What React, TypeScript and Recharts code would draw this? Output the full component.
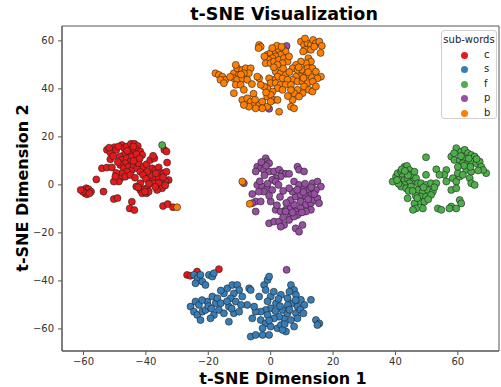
import {
  ScatterChart,
  Scatter,
  XAxis,
  YAxis,
  ReferenceArea,
} from "recharts";

// sub-word clusters, [x, y] in t-SNE units
const cPoints = [
  [-52.5, 14.6], [-51.4, 13.5], [-50.1, 15.7], [-49.5, 14.6], [-47.7, 16.6], [-46.9, 15.3],
  [-46.1, 16.0], [-44.8, 17.1], [-43.7, 17.1], [-42.6, 16.2], [-43.1, 14.6], [-41.8, 13.9],
  [-41.2, 12.5], [-44.5, 14.6], [-45.5, 13.2], [-47.1, 12.5], [-48.4, 11.8], [-47.7, 10.4],
  [-46.1, 11.1], [-44.5, 11.8], [-45.0, 9.7], [-46.6, 9.0], [-48.2, 8.3], [-47.1, 6.9],
  [-45.5, 7.6], [-44.5, 6.2], [-46.1, 5.5], [-47.7, 4.8], [-48.2, 2.7], [-46.6, 3.4],
  [-48.7, 1.4], [-50.3, 1.4], [-45.0, 4.1], [-43.9, 8.3], [-42.8, 6.9], [-41.8, 5.5],
  [-42.3, 9.0], [-40.7, 7.6], [-39.8, 8.6], [-38.6, 10.4], [-37.3, 11.1], [-37.7, 12.1],
  [-38.0, 6.9], [-37.0, 6.2], [-35.9, 7.3], [-35.3, 5.1], [-34.3, 4.8], [-33.4, 5.5],
  [-32.7, 2.0], [-33.7, 1.4], [-35.3, 2.0], [-36.4, 3.4], [-38.0, 2.7], [-37.5, 0.7],
  [-35.9, 0.7], [-34.8, -1.4], [-36.4, -2.1], [-38.6, 4.1], [-39.6, 5.5], [-40.9, 4.1],
  [-41.8, 0.7], [-43.1, -0.7], [-41.8, -2.1], [-40.5, -1.8], [-39.6, -1.4], [-41.2, -3.5],
  [-39.8, -3.5], [-39.1, -2.8], [-33.2, 9.3], [-34.1, 14.6], [-33.4, 13.9], [-44.5, -7.0],
  [-45.2, -9.8], [-43.7, -10.5], [-34.5, -8.8], [-33.0, -8.0], [-31.3, -9.3],
  [-60.0, -2.1], [-59.1, -1.4], [-58.4, -1.8], [-57.6, -2.8], [-59.5, -3.5], [-58.9, -3.9],
  [-60.2, -2.8], [-58.1, -3.5], [-60.9, -2.1], [-55.9, 2.3], [-53.6, -2.8], [-50.3, -5.9],
  [-49.1, -5.5], [-54.1, 6.9], [-52.5, 7.2], [-50.9, 7.3], [-51.4, 10.7],
  [-49.0, 9.5], [-43.0, 12.8], [-42.0, 11.0], [-44.0, 10.0], [-46.0, 14.2], [-48.8, 16.0],
  [-50.5, 12.0], [-49.5, 5.0], [-43.5, 3.0], [-40.0, 2.5], [-39.0, 0.5], [-36.8, 4.8],
  [-34.5, 3.2], [-37.0, -0.8], [-33.8, -0.2], [-40.3, -2.8], [-42.5, -1.0], [-49.8, 3.5],
  [-51.8, 15.5], [-44.0, 16.0],
  [-26.8, -37.5], [-25.7, -37.9], [-23.6, -36.1], [-16.6, -35.1],
];

const sPoints = [
  [-24.6, -37.5], [-23.5, -38.9], [-22.5, -37.5], [-21.9, -40.3], [-20.9, -41.7], [-19.8, -37.5],
  [-18.7, -38.2], [-18.2, -36.8], [-24.1, -41.0], [-25.7, -50.7], [-24.1, -48.6], [-23.0, -50.0],
  [-24.6, -52.8], [-23.5, -54.2], [-21.9, -52.8], [-22.5, -56.3], [-20.9, -52.1], [-20.3, -48.6],
  [-18.7, -46.5], [-17.6, -49.3], [-17.1, -47.2], [-16.0, -49.3], [-16.6, -52.1], [-18.2, -54.2],
  [-19.3, -55.6], [-15.0, -53.5], [-13.4, -57.0], [-15.0, -45.2], [-13.9, -43.1], [-12.3, -41.7],
  [-10.7, -41.7], [-10.1, -43.8], [-11.8, -45.2], [-12.8, -47.2], [-11.2, -48.6], [-13.4, -50.7],
  [-11.8, -53.5], [-10.1, -52.8], [-9.1, -46.5], [-6.9, -43.1], [-6.4, -43.8], [-3.7, -46.5],
  [-2.1, -41.7], [-1.0, -39.6], [-0.5, -38.2], [-1.6, -43.8], [0.0, -46.5], [1.7, -49.3],
  [0.0, -51.4], [-1.6, -52.1], [-3.2, -52.8], [-4.8, -52.8], [-5.9, -55.6], [-5.3, -50.7],
  [-7.5, -50.0], [-3.2, -56.3], [-1.6, -57.7], [0.0, -59.0], [2.2, -59.7], [3.3, -58.4],
  [4.3, -55.6], [2.7, -54.9], [1.1, -55.6], [-1.0, -54.2], [3.8, -52.1], [3.3, -45.8],
  [5.4, -47.2], [6.5, -41.7], [7.5, -43.8], [8.1, -45.8], [7.0, -49.3], [8.6, -50.7],
  [9.7, -47.9], [10.8, -50.0], [8.1, -53.5], [8.6, -55.6], [6.5, -56.3], [5.4, -53.5],
  [12.9, -47.9], [7.5, -59.0], [4.9, -61.1], [3.8, -60.4], [-6.4, -63.2], [-4.8, -62.5],
  [-2.6, -62.5], [-0.5, -62.5], [-2.6, -59.7], [14.5, -56.3], [15.6, -57.7], [15.0, -58.4],
  [-20.0, -50.5], [-22.0, -48.0], [-19.0, -51.5], [-14.0, -48.5], [-12.5, -51.5], [-9.5, -50.0],
  [1.5, -52.5], [3.0, -50.5], [5.5, -50.0], [6.0, -52.0], [2.5, -47.5], [1.0, -44.5],
  [-1.0, -48.5], [6.0, -44.5], [8.0, -48.0], [9.5, -52.0], [-0.5, -56.5], [4.5, -58.0],
  [10.5, -53.5], [-16.0, -44.0],
];

const fPoints = [
  [39.1, 1.4], [40.2, 3.5], [40.7, 4.9], [41.8, 5.5], [42.9, 7.6], [43.7, 7.9],
  [44.5, 6.2], [43.4, 4.9], [42.3, 3.5], [41.3, 2.1], [42.9, 2.1], [43.9, 2.8],
  [45.0, 4.2], [46.1, 5.5], [45.6, 1.4], [44.5, 0.7], [42.9, 0.0], [41.8, -0.7],
  [43.4, -1.4], [45.0, -0.7], [46.6, 2.8], [47.2, 0.7], [49.8, 11.5], [49.8, 4.2],
  [53.1, 6.5], [56.3, 6.2], [55.7, 4.2], [54.1, 4.2], [48.2, 0.7], [49.8, 0.0],
  [51.4, 0.7], [53.1, 0.7], [47.2, -2.1], [48.8, -2.8], [50.4, -2.1], [52.0, -2.8],
  [48.2, -4.9], [49.8, -4.9], [51.4, -4.2], [47.7, -7.0], [49.3, -7.0], [46.1, -7.7],
  [46.6, -9.8], [48.8, -9.8], [43.9, -5.6], [45.6, -10.4], [53.6, -9.8], [57.9, -2.1],
  [56.3, 1.4], [58.4, 2.8], [59.5, 1.4], [60.6, 3.5], [60.0, 4.9],
  [59.5, 15.3], [61.1, 13.9], [62.2, 14.6], [63.2, 13.2], [64.3, 12.5], [65.4, 11.8],
  [57.9, 11.8], [58.9, 10.4], [60.6, 10.4], [62.2, 11.1], [61.6, 9.0], [63.2, 9.0],
  [64.3, 9.7], [65.9, 9.0], [67.0, 9.7], [67.5, 7.6], [69.1, 4.9], [68.1, 6.2],
  [62.7, 6.2], [64.3, 5.5], [63.8, 2.8], [64.3, 0.7], [65.4, 0.0], [61.6, 4.2],
  [59.5, -1.4], [57.9, -9.0], [60.6, -6.3], [61.1, -7.7], [59.5, -9.8], [57.3, -9.8],
  [54.7, -10.4],
  [42.0, 6.5], [44.0, 4.0], [41.0, 0.5], [44.2, -2.5], [46.5, -4.5], [49.0, -1.0],
  [50.5, -6.0], [47.0, -5.5], [52.5, -1.0], [61.0, 12.0], [63.5, 11.0], [64.0, 7.5],
  [62.0, 8.0], [66.0, 10.8], [60.0, 7.5], [58.8, 13.2], [45.5, -2.5], [40.5, 2.0],
  [43.0, 5.8], [66.5, 6.0],
  [-34.8, 16.6],
];

const pPoints = [
  [-1.6, 11.1], [-1.1, 9.7], [-0.5, 9.0], [-4.3, 7.6], [-3.2, 7.0], [-4.8, 5.6],
  [-2.2, 6.3], [-0.5, 5.6], [1.1, 5.6], [2.7, 6.3], [3.7, 4.9], [4.8, 4.6],
  [5.9, 4.6], [3.2, 3.5], [1.6, 2.8], [8.6, 7.6], [9.1, 6.3], [10.7, 5.6],
  [-8.6, 0.7], [-5.9, -3.8], [-4.8, -6.9], [-3.2, -6.9], [-5.9, -7.6], [-4.8, -11.1],
  [-4.3, 0.0], [-2.7, -0.7], [-1.1, -1.4], [0.5, -2.1], [-2.2, -2.8], [-3.8, -2.8],
  [0.5, 2.1], [1.6, 1.4], [0.0, -6.9], [1.6, -10.4], [3.2, -11.1], [4.8, -10.4],
  [6.4, -9.7], [7.5, -8.3], [6.4, -6.3], [8.0, -4.9], [9.6, -4.2], [7.0, -2.8],
  [5.9, -1.4], [7.5, 1.4], [9.1, 0.0], [10.7, -1.4], [12.3, -2.1], [13.4, 0.7],
  [15.0, 1.4], [16.1, -0.7], [14.5, -2.1], [12.9, -4.2], [11.3, -4.9], [9.6, -6.9],
  [11.3, -8.3], [12.9, -7.6], [13.9, -6.3], [15.0, -5.6], [15.5, -7.6], [12.9, -10.4],
  [11.3, -11.1], [9.6, -9.7], [8.0, -11.1], [8.6, -12.5], [6.4, -13.2], [-0.5, -16.0],
  [1.1, -15.3], [2.7, -15.3], [4.3, -16.7], [3.2, -17.4], [5.9, -14.6], [7.5, -13.2],
  [8.0, -18.1], [9.1, -19.5], [10.2, -16.7], [4.8, -11.1],
  [-2.0, 4.0], [-3.5, 1.5], [-1.0, 0.5], [2.5, 0.0], [4.0, -2.5], [3.0, -5.0],
  [5.0, -7.5], [2.0, -8.5], [10.5, -3.0], [12.0, -6.0], [14.0, -3.8], [10.0, -11.5],
  [7.0, -11.5], [4.0, -13.5], [-1.5, 8.0], [-3.0, 9.5], [-0.5, -4.5], [13.0, -1.0],
  [8.5, -2.0], [11.0, 0.5],
  [5.1, 57.9], [-0.5, 31.7], [5.1, -35.4],
];

const bPoints = [
  [-3.7, 58.3], [-3.2, 57.6], [-3.9, 57.0], [-1.1, 54.2], [0.0, 54.9], [1.6, 55.6],
  [2.7, 56.3], [4.0, 56.5], [4.8, 55.6], [3.2, 54.2], [1.6, 53.5], [0.6, 52.8],
  [-0.7, 52.1], [-1.6, 50.7], [0.0, 50.7], [1.1, 51.4], [2.7, 52.1], [4.3, 52.8],
  [5.4, 51.4], [3.8, 50.7], [2.2, 50.0], [5.9, 53.5],
  [9.7, 59.7], [10.7, 58.3], [11.8, 59.0], [12.9, 58.3], [13.6, 60.4], [14.5, 59.0],
  [15.6, 59.7], [16.4, 57.9], [11.3, 56.3], [12.9, 56.3], [14.0, 57.6], [10.4, 55.6],
  [12.1, 52.8], [12.9, 51.4], [11.3, 50.7], [9.7, 51.4], [8.1, 50.0], [7.0, 48.6],
  [8.6, 47.9], [10.2, 47.9], [11.8, 48.6], [13.4, 48.6], [14.5, 47.2], [16.1, 45.1],
  [15.0, 44.4], [12.9, 45.1], [11.3, 45.8], [9.7, 45.1], [8.1, 45.1], [7.0, 43.8],
  [8.6, 43.1], [10.2, 43.1], [11.8, 42.4], [10.7, 41.0], [12.3, 39.6], [13.4, 38.9],
  [10.2, 38.2], [8.6, 39.6], [7.5, 38.2], [9.1, 36.8], [7.0, 35.4],
  [1.6, 47.2], [3.2, 46.5], [4.8, 45.8], [2.2, 45.1], [3.8, 44.4], [5.4, 43.8],
  [0.6, 43.8], [-0.5, 44.4], [0.0, 42.4], [1.6, 42.4], [3.2, 41.7], [4.8, 41.7],
  [6.5, 41.7], [2.2, 40.3], [3.8, 39.6], [0.6, 38.9], [-1.1, 40.3], [-2.1, 41.0],
  [-3.2, 41.7], [-3.7, 44.4], [-4.3, 45.1],
  [-17.7, 46.5], [-16.6, 45.8], [-15.5, 45.1], [-14.5, 43.8], [-16.1, 43.8], [-15.0, 42.4],
  [-11.8, 46.5], [-10.7, 48.6], [-9.1, 47.9], [-8.0, 48.6], [-6.4, 48.6], [-7.0, 46.5],
  [-8.6, 46.5], [-10.2, 45.8], [-11.8, 44.4], [-10.7, 43.8], [-9.1, 44.4], [-7.5, 43.8],
  [-11.2, 41.7], [-9.6, 41.7], [-8.6, 39.6], [-11.8, 38.2], [-11.2, 50.0],
  [-9.1, 35.4], [-7.5, 36.1], [-6.4, 34.7], [-5.3, 33.3], [-3.7, 33.3], [-2.7, 34.7],
  [-1.1, 36.8], [0.0, 37.5], [1.1, 35.4], [2.2, 35.4], [-1.1, 32.6], [-2.7, 31.9],
  [-4.8, 31.9], [-7.0, 32.6], [-8.6, 33.3], [0.0, 34.7], [6.5, 32.6], [7.5, 31.9],
  [2.7, 30.5],
  [2.0, 58.0], [0.5, 57.0], [3.5, 57.5], [-2.0, 53.5], [1.0, 49.0], [4.0, 48.5],
  [6.0, 47.0], [9.0, 49.0], [12.0, 47.0], [13.5, 43.0], [10.5, 44.5], [6.5, 39.5],
  [5.5, 37.0], [-1.5, 38.5], [-5.5, 38.0], [-6.0, 42.0], [-13.0, 45.0], [-9.5, 46.0],
  [-5.0, 35.5], [14.5, 41.0], [16.0, 55.0], [11.0, 61.0],
  [-9.1, 1.4], [-6.7, -7.9], [-30.0, -9.3],
];

const labels = ["c", "s", "f", "p", "b"];
const colors = ["#e41a1c", "#377eb8", "#4daf4a", "#984ea3", "#ff7f00"];
const seriesPoints = [cPoints, sPoints, fPoints, pPoints, bPoints];
const ticks = [-60, -40, -20, 0, 20, 40, 60];

const xDomain = [-66.9, 73.2];
const yDomain = [-69.2, 66.2];

const font = "'DejaVu Sans', sans-serif";
const minus = (v: number) => String(v).replace("-", "\u2212");

export default function App() {
  const tickStyle = { fontSize: 10, fill: "#333", fontFamily: font };

  return (
    <div style={{ position: "absolute", left: 0, top: 0, width: 501, height: 387, background: "#fff", fontFamily: font }}>
      <div style={{ position: "absolute", left: 284, top: 14, transform: "translate(-50%, -50%)", fontSize: 17.5, fontWeight: "bold", whiteSpace: "nowrap" }}>
        t-SNE Visualization
      </div>
      <ScatterChart width={501} height={387} margin={{ top: 26, right: 2, bottom: 0, left: 0 }}>
        <XAxis
          type="number"
          dataKey="x"
          domain={xDomain}
          ticks={ticks}
          allowDataOverflow
          height={36}
          tickSize={4}
          tickMargin={3}
          tick={tickStyle}
          tickFormatter={minus}
          axisLine={{ stroke: "#555" }}
          tickLine={{ stroke: "#555" }}
        />
        <YAxis
          type="number"
          dataKey="y"
          domain={yDomain}
          ticks={ticks}
          allowDataOverflow
          width={62}
          tickSize={4}
          tickMargin={4}
          tick={tickStyle}
          tickFormatter={minus}
          axisLine={{ stroke: "#555" }}
          tickLine={{ stroke: "#555" }}
        />
        <ReferenceArea
          x1={xDomain[0]}
          x2={xDomain[1]}
          y1={yDomain[0]}
          y2={yDomain[1]}
          fill="none"
          stroke="#555"
          ifOverflow="visible"
        />
        {seriesPoints.map((pts, i) => (
          <Scatter
            key={labels[i]}
            name={labels[i]}
            data={pts.map(([x, y]) => ({ x, y }))}
            isAnimationActive={false}
            shape={(p: any) => (
              <circle cx={p.cx} cy={p.cy} r={3.5} fill={colors[i]} stroke="#222" strokeWidth={0.6} />
            )}
          />
        ))}
      </ScatterChart>
      <div style={{ position: "absolute", left: 283, top: 378, transform: "translate(-50%, -50%)", fontSize: 16, fontWeight: "bold", whiteSpace: "nowrap" }}>
        t-SNE Dimension 1
      </div>
      <div style={{ position: "absolute", left: 22, top: 188, transform: "translate(-50%, -50%) rotate(-90deg)", fontSize: 16, fontWeight: "bold", whiteSpace: "nowrap" }}>
        t-SNE Dimension 2
      </div>
      <div style={{ position: "absolute", left: 441, top: 30, width: 56, height: 89, border: "1px solid #d0d0d0", borderRadius: 3, background: "rgba(255,255,255,0.85)", boxSizing: "border-box", fontSize: 10, color: "#222" }}>
        <div style={{ textAlign: "center", marginTop: 3, lineHeight: "12px" }}>sub-words</div>
        {labels.map((l, i) => (
          <div key={l} style={{ position: "absolute", top: 18 + i * 14.4, left: 0, width: 56, height: 12, lineHeight: "12px" }}>
            <span style={{ position: "absolute", left: 19, top: 3, width: 7, height: 7, borderRadius: "50%", background: colors[i] }} />
            <span style={{ position: "absolute", left: 42 }}>{l}</span>
          </div>
        ))}
      </div>
    </div>
  );
}
